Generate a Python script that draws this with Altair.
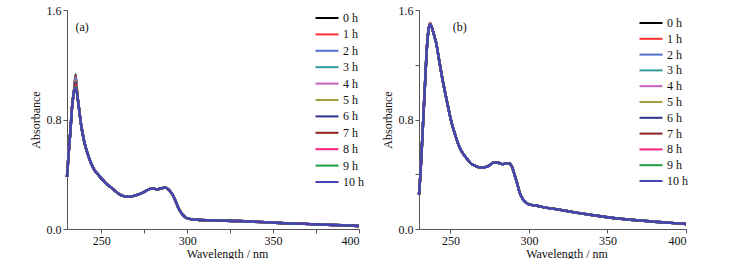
import altair as alt
import pandas as pd

hours = ["0 h", "1 h", "2 h", "3 h", "4 h", "5 h", "6 h", "7 h", "8 h", "9 h", "10 h"]
colors = ["#000000", "#ff3030", "#5070d0", "#2e9c9c", "#c060c0", "#a0a040",
          "#30308e", "#902020", "#ff2080", "#20a040", "#4444b4"]

# Panel (a)
wl_a = [230, 231, 232, 233, 234, 235, 236, 237, 238, 240, 242, 244, 246, 248, 250,
        253, 256, 260, 263, 266, 270, 274, 277, 279, 281, 283, 285, 287, 289, 291,
        293, 295, 297, 299, 302, 306, 315, 330, 345, 360, 375, 390, 400]
abs_a = [0.38, 0.56, 0.72, 0.90, 1.00, None, 0.98, 0.88, 0.78, 0.64, 0.55, 0.48, 0.43, 0.40, 0.37,
         0.33, 0.30, 0.258, 0.240, 0.236, 0.245, 0.265, 0.285, 0.295, 0.293, 0.290, 0.298, 0.302, 0.290, 0.260,
         0.210, 0.150, 0.110, 0.085, 0.072, 0.068, 0.063, 0.058, 0.050, 0.040, 0.035, 0.027, 0.022]
peak_a = [1.13, 1.12, 1.11, 1.10, 1.09, 1.08, 1.07, 1.06, 1.05, 1.04, 1.03]

# Panel (b)
wl_b = [230, 231, 232, 233, 234, 235, 236, 237, 238, 239, 240, 241, 243, 245, 247, 249,
        251, 253, 255, 257, 260, 263, 266, 270, 274, 278, 281, 283, 285, 287, 289, 291,
        292.5, 294, 296, 298, 300, 305, 310, 320, 330, 340, 350, 360, 370, 380, 390, 400]
abs_b = [0.25, 0.42, 0.64, 0.87, 1.10, 1.32, 1.45, None, 1.48, 1.44, 1.40, 1.355, 1.22, 1.09, 0.975, 0.865,
         0.765, 0.69, 0.62, 0.57, 0.52, 0.48, 0.46, 0.448, 0.46, 0.487, 0.482, 0.474, 0.477, 0.48, 0.46, 0.39,
         0.333, 0.27, 0.22, 0.195, 0.18, 0.17, 0.158, 0.14, 0.12, 0.102, 0.086, 0.073, 0.063, 0.053, 0.045, 0.037]
peak_b = [1.505, 1.505, 1.50, 1.50, 1.50, 1.50, 1.495, 1.495, 1.495, 1.495, 1.495]

FONT = "Liberation Serif"


def build(wl, base, peaks):
    rows = []
    for hi, h in enumerate(hours):
        for w, v in zip(wl, base):
            rows.append({"wl": w, "A": peaks[hi] if v is None else v, "hour": h, "order": hi})
    return pd.DataFrame(rows)


df_a = build(wl_a, abs_a, peak_a)
df_b = build(wl_b, abs_b, peak_b)


def panel(df, label, lab_x, width, leg_x, leg_y, row_pad, y_vals, x_vals):
    color = alt.Color(
        "hour:N",
        scale=alt.Scale(domain=hours, range=colors),
        sort=hours,
        legend=alt.Legend(
            title=None, orient="none", legendX=leg_x, legendY=leg_y,
            symbolType="M-2.3,0H2.3", symbolSize=100, symbolStrokeWidth=2,
            labelFont=FONT, labelFontSize=12, labelColor="#111",
            labelOffset=10, rowPadding=row_pad, padding=0,
        ),
    )
    lines = alt.Chart(df).mark_line(strokeWidth=2.4, interpolate="monotone").encode(
        x=alt.X("wl:Q", scale=alt.Scale(domain=[230, 400], nice=False, zero=False),
                axis=alt.Axis(title="Wavelength / nm", values=x_vals, titleX=width / 2 + 14,
                              labelExpr="datum.value % 50 == 0 ? datum.label : ''")),
        y=alt.Y("A:Q", scale=alt.Scale(domain=[0, 1.6], nice=False),
                axis=alt.Axis(title="Absorbance", values=y_vals, format=".1f",
                              labelExpr="(round(datum.value*10) % 8 == 0) ? format(datum.value, '.1f') : ''")),
        color=color,
        order=alt.Order("order:Q"),
        detail="hour:N",
    )
    txt = alt.Chart(pd.DataFrame({"x": [lab_x], "y": [1.475], "t": [label]})).mark_text(
        font=FONT, fontSize=12, color="#111"
    ).encode(x="x:Q", y="y:Q", text="t:N")
    return alt.layer(lines, txt).properties(width=width, height=219)


a = panel(df_a, "(a)", 238.8, 292, 254, 2, 4.4, [0, 0.8, 1.6], [250, 275, 300, 325, 350, 375, 400])
b = panel(df_b, "(b)", 255.9, 267, 226, 7, 3.8, [0, 0.4, 0.8, 1.2, 1.6], [250, 300, 350, 400])

chart = alt.hconcat(a, b, spacing=60, bounds="flush").resolve_scale(color="independent").properties(
    padding={"left": 29, "top": 4, "right": 0, "bottom": 0},
    background="white",
).configure_view(stroke=None).configure_axis(
    domainColor="#555", tickColor="#555", grid=False, tickSize=4,
    labelFont=FONT, labelFontSize=12, labelColor="#111", labelPadding=2,
    titleFont=FONT, titleFontSize=12, titleFontWeight="normal", titleColor="#111",
).configure_axisX(titlePadding=2).configure_axisY(titlePadding=4)

chart.save("out.html", embed_options={"renderer": "svg", "actions": False})
